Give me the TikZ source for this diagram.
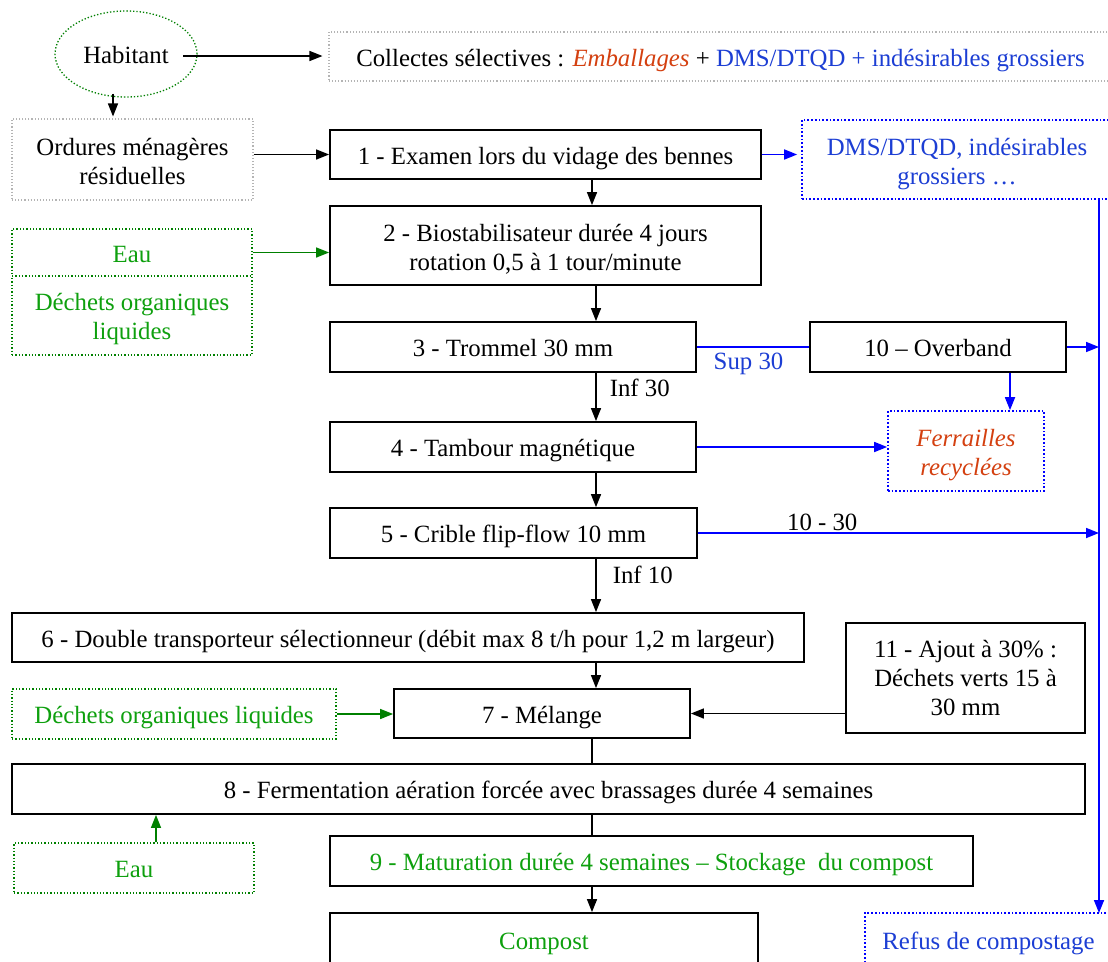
\documentclass[tikz,border=0pt]{standalone}
\usepackage{fontspec}
\setmainfont{Liberation Serif}
\usetikzlibrary{arrows.meta,shapes.geometric,calc}
\definecolor{tblue}{RGB}{28,62,212}
\definecolor{lblue}{RGB}{0,0,255}
\definecolor{tred}{RGB}{212,64,16}
\definecolor{tgreen}{RGB}{14,160,14}
\definecolor{lgreen}{RGB}{0,128,0}
\definecolor{dgray}{RGB}{180,180,180}
\newcommand\firstdown[1]{\rule{0pt}{#1}}
\tikzset{
  box/.style={draw=black, line width=1.8pt, inner sep=0pt, align=center},
  graybox/.style={draw=dgray, dotted, line width=1.1pt, inner sep=0pt, align=center},
  greenbox/.style={draw=lgreen, dotted, line width=1.3pt, inner sep=0pt, align=center, text=tgreen},
  bluebox/.style={draw=lblue, dotted, line width=1.7pt, inner sep=0pt, align=center},
  one/.style={text height=22pt, text depth=3pt},
  arr/.style={-{Triangle[length=13pt,width=10pt]}, line width=1.5pt},
  plain/.style={line width=1.5pt},
  barr/.style={arr, draw=lblue, fill=lblue, line width=1.7pt},
  bline/.style={draw=lblue, line width=1.7pt},
  garr/.style={arr, draw=lgreen, fill=lgreen},
  lbl/.style={inner sep=1pt},
}
\begin{document}
\begin{tikzpicture}[x=1pt,y=-1pt,font=\fontsize{24.8}{29}\selectfont]
\useasboundingbox (0,0) rectangle (1108,961);
\clip (0,0) rectangle (1108,961);
\fill[white] (0,0) rectangle (1108,961);

% nodes
\node[ellipse, one, draw=lgreen, dotted, line width=1.3pt, minimum width=142pt, minimum height=86pt, inner sep=0pt] (hab) at (126,54) {Habitant};
\node[graybox, one, minimum width=783pt, minimum height=49pt] (collect) at (720.5,56.5)
  {Collectes sélectives : \textcolor{tred}{\itshape Emballages} + \textcolor{tblue}{DMS/DTQD + indésirables grossiers}};
\node[graybox, minimum width=241pt, minimum height=81pt] (ord) at (132.5,159.5) {\firstdown{21pt}Ordures ménagères\\résiduelles};
\node[box, one, minimum width=431pt, minimum height=49pt] (b1) at (545.5,154.5) {1 - Examen lors du vidage des bennes};
\node[bluebox, minimum width=310pt, minimum height=79pt, text=tblue] (dms) at (957,159.5) {\firstdown{26pt}DMS/DTQD, indésirables\\grossiers …};
\node[box, minimum width=431pt, minimum height=79pt] (b2) at (545.5,245.5) {\firstdown{24pt}2 - Biostabilisateur durée 4 jours\\rotation 0,5 à 1 tour/minute};
\node[greenbox, one, minimum width=240pt, minimum height=47pt] (eau1) at (132,252.5) {Eau};
\node[greenbox, minimum width=240pt, minimum height=79pt] (dol1) at (132,315.5) {\firstdown{25pt}Déchets organiques\\liquides};
\node[box, one, minimum width=366pt, minimum height=50pt] (b3) at (513,347) {3 - Trommel 30 mm};
\node[box, one, minimum width=256pt, minimum height=50pt] (b10) at (938,347) {10 – Overband};
\node[bluebox, minimum width=156pt, minimum height=80pt, text=tred, font=\fontsize{24.8}{29}\selectfont\itshape] (fer) at (966,451) {\firstdown{25pt}Ferrailles\\recyclées};
\node[box, one, minimum width=366pt, minimum height=50pt] (b4) at (513,447) {4 - Tambour magnétique};
\node[box, one, minimum width=367pt, minimum height=50pt] (b5) at (513.5,533) {5 - Crible flip-flow 10 mm};
\node[box, one, minimum width=792pt, minimum height=49pt] (b6) at (408,637.5) {6 - Double transporteur sélectionneur (débit max 8 t/h pour 1,2 m largeur)};
\node[box, one, minimum width=296pt, minimum height=49pt] (b7) at (542,713.5) {7 - Mélange};
\node[greenbox, one, minimum width=324pt, minimum height=50pt] (dol2) at (174,714) {Déchets organiques liquides};
\node[box, minimum width=239pt, minimum height=110pt] (b11) at (965.5,678) {11 - Ajout à 30\% :\\Déchets verts 15 à\\30 mm};
\node[box, one, minimum width=1073pt, minimum height=50pt] (b8) at (548.5,789) {8 - Fermentation aération forcée avec brassages durée 4 semaines};
\node[greenbox, one, minimum width=240pt, minimum height=50pt] (eau2) at (134,868) {Eau};
\node[box, one, minimum width=643pt, minimum height=50pt, text=tgreen] (b9) at (651.5,861) {9 - Maturation durée 4 semaines – Stockage~~du compost};
\node[box, one, minimum width=428pt, minimum height=54pt, text=tgreen] (comp) at (544,940) {Compost};
\node[bluebox, one, minimum width=247pt, minimum height=54pt, text=tblue] (refus) at (988.5,940) {Refus de compostage};

% helper coordinates
\coordinate (cA) at (592,0);
\coordinate (cB) at (596,0);
\coordinate (cF) at (1010,0);
\coordinate (cE) at (156,0);
\coordinate (vt) at (1099,199);
\coordinate (vb) at (1099,913);
\coordinate (hs) at ($(hab.center)+(57,2)$);
\coordinate (hd) at ($(hab.south)+(-13,-4)$);

% connectors
\draw[arr, shorten >=6pt] (hs) -- (hs -| collect.west);
\draw[arr, shorten >=2pt] (hd) -- (hd |- ord.north);
\draw[arr] (ord.east |- b1.west) -- (b1.west);
\draw[barr, shorten >=4pt] (b1.east) -- (b1.east -| dms.west);
\draw[arr] (b1.south -| cA) -- (b2.north -| cA);
\draw[garr] (eau1.east) -- (eau1.east -| b2.west);
\draw[arr] (b2.south -| cB) -- (b3.north -| cB);
\draw[bline] (b3.east) -- (b10.west) node[lbl, pos=0.46, below=4pt, text=tblue] {Sup 30};
\draw[barr] (b10.east) -- (b10.east -| vt);
\draw[barr] (b10.south -| cF) -- (fer.north -| cF);
\draw[arr] (b3.south -| cB) -- (b4.north -| cB) node[lbl, pos=0.32, right=12pt] {Inf 30};
\draw[barr] (b4.east) -- (b4.east -| fer.west);
\draw[arr] (b4.south -| cB) -- (b5.north -| cB);
\draw[barr] (b5.east) -- (b5.east -| vt) node[lbl, pos=0.31, above] {10 - 30};
\draw[arr] (b5.south -| cB) -- (b6.north -| cB) node[lbl, pos=0.3, right=15pt] {Inf 10};
\draw[arr] (b6.south -| cB) -- (b7.north -| cB);
\draw[garr] (dol2.east) -- (dol2.east -| b7.west);
\draw[arr] (b11.west |- b7.east) -- (b7.east);
\draw[plain] (b7.south -| cA) -- (b8.north -| cA);
\draw[garr] (eau2.north -| cE) -- (b8.south -| cE);
\draw[plain] (b8.south -| cA) -- (b9.north -| cA);
\draw[arr] (b9.south -| cA) -- (comp.north -| cA);
\draw[barr] (vt) -- (vb);
\end{tikzpicture}
\end{document}
